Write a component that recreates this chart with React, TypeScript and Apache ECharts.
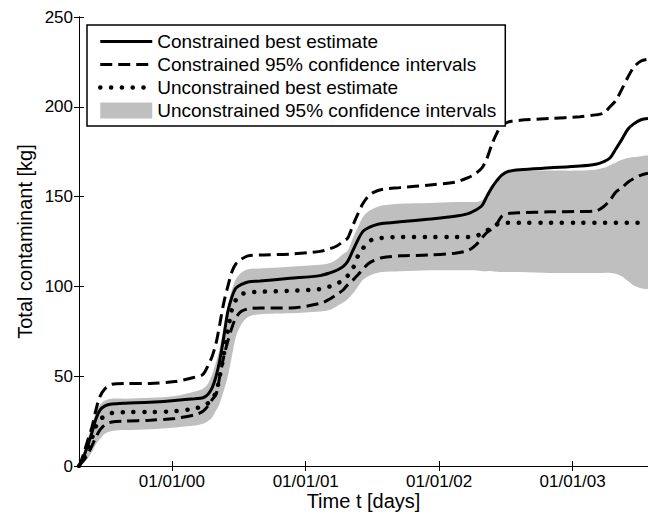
import React, { useEffect, useRef } from 'react';
import * as echarts from 'echarts';

// time in days since the start of the record
const days = [
  0, 8, 16, 25, 36, 46, 57, 71, 90, 126, 194, 262, 317, 339, 353, 364, 375, 385, 396, 407,
  418, 429, 443, 462, 495, 577, 659, 686, 705, 722, 735, 749, 763, 776, 790, 807, 828, 878, 960, 1028,
  1064, 1085, 1102, 1115, 1129, 1143, 1156, 1173, 1206, 1288, 1370, 1413, 1435, 1452, 1468, 1485, 1501, 1517, 1537, 1556,
];

const constrainedBest = [
  0, 3, 7, 12, 19, 26, 31, 33.5, 34.5, 35, 35.5, 36.5, 37.5, 38, 40, 43.5, 50, 59, 72, 86,
  94, 99, 101, 102.5, 103, 104.5, 106, 107.5, 109, 111, 114, 120, 126, 130.5, 132.5, 134, 135, 136, 137.5, 139,
  140.5, 142.5, 145, 150, 155, 159, 162, 164, 165, 166, 167, 168, 169.5, 171.5, 176.5, 182, 187.5, 190.5, 192.8, 193.5,
];

const constrainedUpper = [
  0, 4, 9, 15, 22, 31, 38.5, 43, 45.5, 46, 46, 47, 49.5, 51, 56, 61, 68.5, 79, 91, 100,
  108, 112.5, 115, 117, 117.5, 118, 119.5, 121, 122.5, 125, 127, 134, 140.5, 146, 150, 152.5, 154, 155, 156.5, 158,
  160.5, 163, 166, 171, 179, 185.5, 189.5, 191.5, 192.5, 193.5, 194.5, 195.5, 196.5, 200, 203.5, 210, 216.5, 222, 225.5, 226.5,
];

const constrainedLower = [
  0, 2, 4, 7, 11.5, 16, 20, 23, 24.5, 25, 25.5, 26.5, 28.5, 30.5, 33.5, 37, 40, 50, 61, 69.5,
  77, 82.5, 86, 87.5, 88, 88, 90.5, 93, 95.5, 98, 101, 103.5, 106.5, 109.5, 112.5, 114.5, 116, 117, 117.5, 118.5,
  120, 123, 127, 130, 132, 135, 139, 140.5, 141, 141.5, 141.7, 142, 144.5, 148, 152.5, 155, 158, 160, 162, 163,
];

const unconstrainedBest = [
  0, 2.5, 6, 10, 16, 22, 25.5, 28, 29.5, 30, 30, 30.5, 32, 33.5, 35, 37.5, 41, 50, 62, 75,
  87, 92.5, 95.5, 96.5, 97, 97.5, 98.5, 100, 101.5, 103.5, 106, 110, 117, 121, 124.5, 126.5, 127, 127.5, 127.5, 127.5,
  127.5, 128, 129.5, 131, 133, 134.5, 135.2, 135.5, 135.5, 135.5, 135.5, 135.5, 135.5, 135.5, 135.5, 135.5, 135.5, 135.5, 135.5, 135.5,
];

const unconstrainedUpper = [
  0, 5, 10, 16, 23, 30, 34, 36.5, 37.5, 37.5, 38, 39, 41.5, 43, 46, 51, 58, 66, 78, 89,
  98, 104, 107.5, 109.5, 110, 111, 112, 113, 115, 118, 120, 127, 133, 138.5, 141.5, 143.5, 145, 146, 146.5, 147,
  147, 147, 148, 151, 155, 159, 162, 163.5, 164.5, 164.5, 164.5, 165, 166, 167.5, 169, 170.5, 171.5, 172, 172.5, 172.5,
];

const unconstrainedLower = [
  0, 1, 2.5, 4.5, 8, 12, 15, 18, 19.5, 20, 20.5, 21.5, 22.5, 23.5, 25, 27, 31, 35, 42, 50,
  61, 72, 78.5, 83, 84.5, 85, 86, 87, 89, 91, 93, 96, 100, 103.5, 105.5, 107, 108, 108.5, 109, 109,
  109, 109, 108.5, 108.5, 108.5, 108.2, 108, 108, 108, 107.5, 107.5, 107.5, 107.5, 107.5, 107, 105.5, 103, 100.5, 99, 99,
];

const xTickDays = [254, 620, 985, 1350];
const xTickLabels = ['01/01/00', '01/01/01', '01/01/02', '01/01/03'];
const yMin = 0;
const yMax = 250;
const yStep = 50;

const legendNames = [
  'Constrained best estimate',
  'Constrained 95% confidence intervals',
  'Unconstrained best estimate',
  'Unconstrained 95% confidence intervals',
];

export default function App() {
  const ref = useRef<HTMLDivElement>(null);

  useEffect(() => {
    const chart = echarts.init(ref.current!, null, { renderer: 'svg' });
    const font = "'Liberation Sans', Arial, Helvetica, sans-serif";
    const pair = (ys: number[]) => days.map((d, i) => [d, ys[i]]);
    const xMax = days[days.length - 1];
    const axisLine = { show: true, lineStyle: { color: '#000', width: 1 } };
    const smooth = 0.3;
    const bandColor = '#bfbfbf';
    const hiddenSymbol = { opacity: 0 };
    const black = { color: '#000' };

    const option: any = {
      animation: false,
      backgroundColor: '#fff',
      grid: { left: 79, top: 17, right: 0, bottom: 48, containLabel: false, outerBoundsMode: 'none' },
      legend: {
        show: true,
        orient: 'vertical',
        left: 87,
        top: 25,
        itemWidth: 52,
        itemHeight: 16,
        itemGap: 4,
        padding: [7, 9, 6, 11],
        borderColor: '#000',
        borderWidth: 1.5,
        backgroundColor: '#fff',
        selectedMode: false,
        lineStyle: { width: 'inherit' },
        textStyle: { fontSize: 19, lineHeight: 19, color: '#000', fontFamily: font },
        data: [
          { name: legendNames[0], itemStyle: hiddenSymbol, lineStyle: black },
          { name: legendNames[1], itemStyle: hiddenSymbol, lineStyle: black },
          { name: legendNames[2], itemStyle: hiddenSymbol, lineStyle: black },
          { name: legendNames[3], icon: 'rect', itemStyle: { color: bandColor } },
        ],
      },
      xAxis: [
        {
          type: 'value',
          position: 'bottom',
          min: 0,
          max: xMax,
          axisLine,
          axisTick: { show: true, inside: true, length: 5, customValues: xTickDays, lineStyle: { color: '#000' } },
          axisLabel: {
            customValues: xTickDays,
            formatter: (v: number) => {
              const i = xTickDays.indexOf(v);
              return i >= 0 ? xTickLabels[i] : '';
            },
            color: '#000',
            fontSize: 17,
            fontFamily: font,
            margin: 7,
          },
          splitLine: { show: false },
          name: 'Time t [days]',
          nameLocation: 'middle',
          nameGap: 25,
          nameMoveOverlap: false,
          nameTextStyle: { fontSize: 20, lineHeight: 20, color: '#000', fontFamily: font },
        },
        {
          type: 'value',
          position: 'top',
          min: 0,
          max: xMax,
          axisLine,
          axisTick: { show: true, inside: true, length: 5, customValues: xTickDays, lineStyle: { color: '#000' } },
          axisLabel: { show: false },
          splitLine: { show: false },
        },
      ],
      yAxis: [
        {
          type: 'value',
          position: 'left',
          min: yMin,
          max: yMax,
          interval: yStep,
          axisLine,
          axisTick: { show: true, inside: true, length: 5, lineStyle: { color: '#000' } },
          axisLabel: { color: '#000', fontSize: 17, fontFamily: font, margin: 6 },
          splitLine: { show: false },
          name: 'Total contaminant [kg]',
          nameLocation: 'middle',
          nameGap: 44,
          nameMoveOverlap: false,
          nameTextStyle: { fontSize: 20, color: '#000', fontFamily: font },
        },
        {
          type: 'value',
          position: 'right',
          min: yMin,
          max: yMax,
          interval: yStep,
          axisLine,
          axisTick: { show: true, inside: true, length: 5, lineStyle: { color: '#000' } },
          axisLabel: { show: false },
          splitLine: { show: false },
        },
      ],
      series: [
        {
          type: 'custom',
          name: legendNames[3],
          data: days.map((d, i) => [d, unconstrainedLower[i], unconstrainedUpper[i]]),
          encode: { x: 0, y: [1, 2] },
          itemStyle: { color: bandColor },
          clip: true,
          silent: true,
          z: 1,
          renderItem: (params: any, api: any) => {
            if (params.dataIndex !== 0) return null;
            const upper = days.map((d, i) => api.coord([d, unconstrainedUpper[i]]));
            const lower = days.map((d, i) => api.coord([d, unconstrainedLower[i]])).reverse();
            return {
              type: 'polygon',
              shape: { points: upper.concat(lower), smooth },
              style: { fill: bandColor, stroke: 'none' },
            };
          },
        },
        {
          type: 'line',
          name: legendNames[0],
          data: pair(constrainedBest),
          symbol: 'none',
          smooth,
          lineStyle: { color: '#000', width: 3, type: 'solid' },
          itemStyle: { color: '#000' },
          z: 3,
        },
        {
          type: 'line',
          name: legendNames[1],
          data: pair(constrainedUpper),
          symbol: 'none',
          smooth,
          lineStyle: { color: '#000', width: 3, type: [12, 6] },
          itemStyle: { color: '#000' },
          z: 3,
        },
        {
          type: 'line',
          name: legendNames[1],
          data: pair(constrainedLower),
          symbol: 'none',
          smooth,
          lineStyle: { color: '#000', width: 3, type: [12, 6] },
          itemStyle: { color: '#000' },
          z: 3,
        },
        {
          type: 'line',
          name: legendNames[2],
          data: pair(unconstrainedBest),
          symbol: 'none',
          smooth,
          lineStyle: { color: '#000', width: 4.5, type: [0.1, 10.7], cap: 'round' },
          itemStyle: { color: '#000' },
          z: 3,
        },
      ],
    };

    chart.setOption(option);
    return () => chart.dispose();
  }, []);

  return (
    <div
      ref={ref}
      style={{ position: 'absolute', left: 0, top: 0, width: 648, height: 514 }}
    />
  );
}
